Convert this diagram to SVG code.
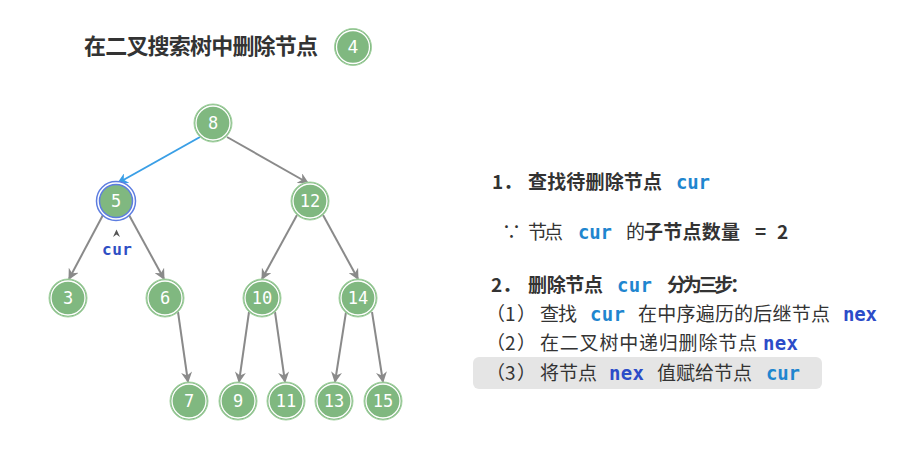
<svg xmlns="http://www.w3.org/2000/svg" width="915" height="451" viewBox="0 0 915 451">
<style>
.n circle.o{fill:#80b880;stroke:#a3d2a1;stroke-width:1}
.n circle.i{fill:none;stroke:#fff;stroke-width:1.3}
.n text{font-family:"DejaVu Sans Mono","Liberation Mono",monospace;font-size:17px;fill:#fff;text-anchor:middle}
.e{stroke:#8a8a8a;stroke-width:2;fill:none;marker-end:url(#ag)}
.t{font-family:"Noto Sans CJK SC","Noto Sans",sans-serif;font-size:19px;fill:#333}
.b{font-weight:bold}
.m{font-family:"DejaVu Sans Mono","Liberation Mono",monospace;font-weight:bold;font-size:19px}
.cu{fill:#1f86cf}
.nx{fill:#2c4cc8}
</style>
<defs>
<marker id="ag" viewBox="0 0 10 10" refX="9" refY="5" markerWidth="5.5" markerHeight="5.5" orient="auto" markerUnits="strokeWidth">
<path d="M0,0 L10,5 L0,10 L3,5 z" fill="#8a8a8a"/>
</marker>
<marker id="ab" viewBox="0 0 10 10" refX="9" refY="5" markerWidth="5.5" markerHeight="5.5" orient="auto" markerUnits="strokeWidth">
<path d="M0,0 L10,5 L0,10 L3,5 z" fill="#3a9fe6"/>
</marker>
</defs>
<rect width="915" height="451" fill="#fff"/>
<g id="title">
<text x="84" y="54" style="font-family:'Noto Sans CJK SC','Noto Sans',sans-serif;font-size:22px;font-weight:bold;fill:#333" textLength="234">在二叉搜索树中删除节点</text>
<g class="n"><circle class="o" cx="353" cy="47" r="18.5"/><circle class="i" cx="353" cy="47" r="16.5"/><text x="353" y="53" style="font-size:18px">4</text></g>
</g>
<g id="connectors">
<line x1="200" y1="137" x2="118" y2="183" style="stroke:#3a9fe6;stroke-width:2;marker-end:url(#ab)"/>
<line class="e" x1="227" y1="137" x2="308" y2="183"/>
<line class="e" x1="103" y1="215" x2="69" y2="279"/>
<line class="e" x1="129" y1="215" x2="164" y2="279"/>
<line class="e" x1="297" y1="215" x2="262" y2="279"/>
<line class="e" x1="323" y1="215" x2="358" y2="279"/>
<line class="e" x1="178" y1="312" x2="188" y2="382"/>
<line class="e" x1="249" y1="312" x2="239" y2="382"/>
<line class="e" x1="275" y1="312" x2="285" y2="382"/>
<line class="e" x1="346" y1="312" x2="335" y2="382"/>
<line class="e" x1="372" y1="312" x2="383" y2="382"/>
</g>
<g id="node8" class="n"><circle class="o" cx="213" cy="123" r="19"/><circle class="i" cx="213" cy="123" r="17"/><text x="213" y="129">8</text></g>
<g id="node5" class="n"><circle cx="116" cy="201" r="19.5" fill="#fff" stroke="#5d7de0" stroke-width="1.5"/><circle cx="116" cy="201" r="16.5" fill="#80b880" stroke="#5d7de0" stroke-width="1.5"/><text x="116" y="207">5</text></g>
<g id="node12" class="n"><circle class="o" cx="310" cy="201" r="19"/><circle class="i" cx="310" cy="201" r="17"/><text x="310" y="207">12</text></g>
<g id="node3" class="n"><circle class="o" cx="68" cy="298" r="19"/><circle class="i" cx="68" cy="298" r="17"/><text x="68" y="304">3</text></g>
<g id="node6" class="n"><circle class="o" cx="165" cy="298" r="19"/><circle class="i" cx="165" cy="298" r="17"/><text x="165" y="304">6</text></g>
<g id="node10" class="n"><circle class="o" cx="262" cy="298" r="19"/><circle class="i" cx="262" cy="298" r="17"/><text x="262" y="304">10</text></g>
<g id="node14" class="n"><circle class="o" cx="358" cy="298" r="19"/><circle class="i" cx="358" cy="298" r="17"/><text x="358" y="304">14</text></g>
<g id="node7" class="n"><circle class="o" cx="189" cy="401" r="19"/><circle class="i" cx="189" cy="401" r="17"/><text x="189" y="407">7</text></g>
<g id="node9" class="n"><circle class="o" cx="238" cy="401" r="19"/><circle class="i" cx="238" cy="401" r="17"/><text x="238" y="407">9</text></g>
<g id="node11" class="n"><circle class="o" cx="286" cy="401" r="19"/><circle class="i" cx="286" cy="401" r="17"/><text x="286" y="407">11</text></g>
<g id="node13" class="n"><circle class="o" cx="334" cy="401" r="19"/><circle class="i" cx="334" cy="401" r="17"/><text x="334" y="407">13</text></g>
<g id="node15" class="n"><circle class="o" cx="383" cy="401" r="19"/><circle class="i" cx="383" cy="401" r="17"/><text x="383" y="407">15</text></g>
<g id="curlabel">
<path d="M113,237 L116.5,229.5 L120,237 L116.5,234.5 z" fill="#555"/>
<text x="102" y="255" textLength="30" style="font-family:'DejaVu Sans Mono',monospace;font-weight:bold;font-size:16px;fill:#2f4fc4">cur</text>
</g>
<g id="steps">
<rect x="473" y="357" width="349" height="32" rx="6" fill="#e5e5e5"/>
<text class="t b" y="189"><tspan x="492">1．</tspan><tspan x="528" textLength="134">查找待删除节点</tspan><tspan x="676" class="m cu" textLength="34">cur</tspan></text>
<text class="t" y="239"><tspan x="502">∵</tspan><tspan x="528" textLength="35">节点</tspan><tspan x="578" class="m cu" textLength="34">cur</tspan><tspan x="626">的</tspan><tspan x="644" class="b" textLength="96">子节点数量</tspan><tspan x="755" class="b">=</tspan><tspan x="777" class="b">2</tspan></text>
<text class="t b" y="292"><tspan x="491">2．</tspan><tspan x="528" textLength="75">删除节点</tspan><tspan x="617" class="m cu" textLength="35">cur</tspan><tspan x="667" textLength="82">分为三步：</tspan></text>
<text class="t" y="321"><tspan x="486">（</tspan><tspan x="505">1</tspan><tspan x="517">）</tspan><tspan x="540" textLength="37">查找</tspan><tspan x="590" class="m cu" textLength="35">cur</tspan><tspan x="638" textLength="192">在中序遍历的后继节点</tspan><tspan x="843" class="m nx" textLength="34">nex</tspan></text>
<text class="t" y="350"><tspan x="486">（</tspan><tspan x="505">2</tspan><tspan x="517">）</tspan><tspan x="540" textLength="217">在二叉树中递归删除节点</tspan><tspan x="763" class="m nx" textLength="35">nex</tspan></text>
<text class="t" y="380"><tspan x="486">（</tspan><tspan x="505">3</tspan><tspan x="517">）</tspan><tspan x="540" textLength="57">将节点</tspan><tspan x="609" class="m nx" textLength="35">nex</tspan><tspan x="657" textLength="95">值赋给节点</tspan><tspan x="766" class="m cu" textLength="34">cur</tspan></text>
</g>
</svg>
